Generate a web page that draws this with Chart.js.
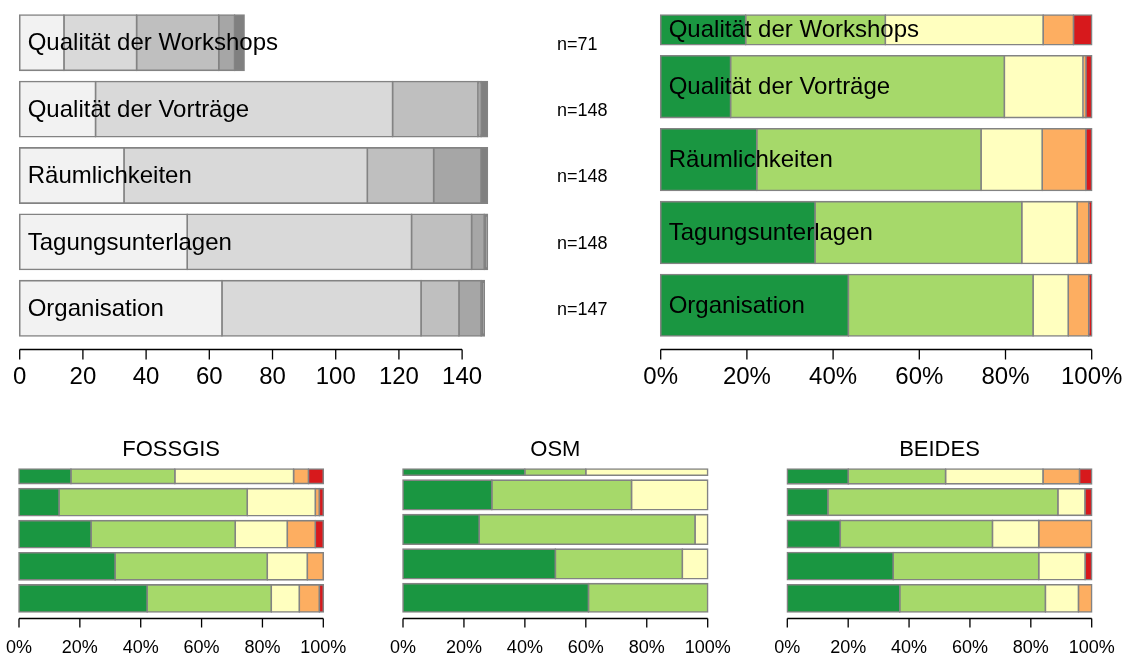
<!DOCTYPE html>
<html>
<head>
<meta charset="utf-8">
<script src="https://cdn.jsdelivr.net/npm/chart.js@4.4.0/dist/chart.umd.min.js"></script>
<style>
  body { margin: 0; background: #fff; }
  #wrap { position: relative; width: 1124px; height: 655px; }
  #wrap canvas { position: absolute; left: 0; top: 0; }
</style>
</head>
<body>
<div id="wrap">
  <canvas id="cAll" width="1124" height="655"></canvas>
  <canvas id="cPct" width="1124" height="655"></canvas>
  <canvas id="cFoss" width="1124" height="655"></canvas>
  <canvas id="cOsm" width="1124" height="655"></canvas>
  <canvas id="cBeides" width="1124" height="655"></canvas>
</div>
<script>
// rows, top to bottom as shown
const rowLabels = ['Qualität der Workshops', 'Qualität der Vorträge', 'Räumlichkeiten', 'Tagungsunterlagen', 'Organisation'];
const levels = ['1', '2', '3', '4', '5'];

// answers per rating level (1 = best ... 5 = worst)
const countsAll = [
  [14, 23, 26, 5, 3],
  [24, 94, 27, 1, 2],
  [33, 77, 21, 15, 2],
  [53, 71, 19, 4, 1],
  [64, 63, 12, 7, 1],
];
const countsFossgis = [
  [7, 14, 16, 2, 2],
  [10, 47, 17, 1, 1],
  [18, 36, 13, 7, 2],
  [24, 38, 10, 4, 0],
  [32, 31, 7, 5, 1],
];
const countsOsm = [
  [2, 1, 2, 0, 0],
  [7, 11, 6, 0, 0],
  [6, 17, 1, 0, 0],
  [12, 10, 2, 0, 0],
  [14, 9, 0, 0, 0],
];
const countsBeides = [
  [5, 8, 8, 3, 1],
  [6, 34, 4, 0, 1],
  [8, 23, 7, 8, 0],
  [16, 22, 7, 0, 1],
  [17, 22, 5, 2, 0],
];

const countTicks = [0, 20, 40, 60, 80, 100, 120, 140];
const pctTicks = [0, 20, 40, 60, 80, 100];

const grays = ['#F2F2F2', '#D9D9D9', '#BFBFBF', '#A6A6A6', '#808080'];
const rdylgn = ['#1A9641', '#A6D96A', '#FFFFBF', '#FDAE61', '#D7191C'];
const FONT = '"Liberation Sans", Arial, Helvetica, sans-serif';

function sum(a) { return a.reduce((s, v) => s + v, 0); }

// bar positions like R's barplot (space = 0.2 of mean width, 4% padding)
function barLayout(widths) {
  const space = 0.2 * sum(widths) / widths.length;
  const centers = [];
  let pos = 0;
  widths.forEach((w) => {
    pos += space;
    centers.push(pos + w / 2);
    pos += w;
  });
  const lo = space, hi = pos, ext = 0.04 * (hi - lo);
  return { centers, min: lo - ext, max: hi + ext };
}

function makePanel(id, cfg) {
  const rows = cfg.counts.slice().reverse(); // first row is drawn at the bottom
  const labels = rowLabels.slice().reverse();
  const totals = rows.map(sum);
  const widths = cfg.equal ? rows.map(() => 1) : totals;
  const lay = barLayout(widths);
  const a = cfg.area;
  const pxPerUnit = (a.b - a.t) / (lay.max - lay.min);

  const datasets = [];
  rows.forEach((r, k) => {
    r.forEach((v, j) => {
      if (!v) return;
      datasets.push({
        label: levels[j],
        data: [{ x: cfg.percent ? v / totals[k] * 100 : v, y: lay.centers[k] }],
        backgroundColor: cfg.colors[j],
        borderColor: '#838383',
        borderWidth: 1.6,
        inflateAmount: 0.8,
        borderSkipped: false,
        barThickness: widths[k] * pxPerUnit,
        clip: false,
      });
    });
  });

  const textPlugin = {
    id: 'panelText',
    afterDatasetsDraw(chart) {
      const ctx = chart.ctx;
      const xs = chart.scales.x, ys = chart.scales.y;
      const area = chart.chartArea;
      ctx.save();
      ctx.fillStyle = '#000';
      if (cfg.rowFont) {
        ctx.font = cfg.rowFont + 'px ' + FONT;
        ctx.textAlign = 'left';
        ctx.textBaseline = 'middle';
        labels.forEach((l, k) => {
          ctx.fillText(l, area.left + 8, ys.getPixelForValue(lay.centers[k]) + 1);
        });
      }
      if (cfg.nX) {
        ctx.font = '18px ' + FONT;
        ctx.textBaseline = 'middle';
        totals.forEach((n, k) => {
          ctx.fillText('n=' + n, cfg.nX, ys.getPixelForValue(lay.centers[k]) + 2);
        });
      }
      // axis
      const y0 = Math.round(area.bottom) + 0.5;
      const x0 = xs.getPixelForValue(cfg.ticks[0]);
      const x1 = xs.getPixelForValue(cfg.ticks[cfg.ticks.length - 1]);
      ctx.strokeStyle = '#000';
      ctx.lineWidth = 1.3;
      ctx.beginPath();
      ctx.moveTo(x0, y0);
      ctx.lineTo(x1, y0);
      cfg.ticks.forEach((t) => {
        const x = xs.getPixelForValue(t);
        ctx.moveTo(x, y0);
        ctx.lineTo(x, y0 + cfg.tickLen);
      });
      ctx.stroke();
      ctx.font = cfg.tickFont + 'px ' + FONT;
      ctx.textAlign = 'center';
      ctx.textBaseline = 'alphabetic';
      cfg.ticks.forEach((t) => {
        ctx.fillText(t + (cfg.percent ? '%' : ''), xs.getPixelForValue(t), cfg.tickBase);
      });
      if (cfg.title) {
        ctx.font = '22px ' + FONT;
        ctx.fillText(cfg.title, (area.left + area.right) / 2, area.top - 7);
      }
      ctx.restore();
    },
  };

  return new Chart(document.getElementById(id), {
    type: 'bar',
    data: { datasets },
    options: {
      indexAxis: 'y',
      responsive: false,
      devicePixelRatio: 1,
      animation: false,
      events: [],
      layout: { padding: { left: a.l, right: 1124 - a.r, top: a.t, bottom: 655 - a.b } },
      scales: {
        x: { type: 'linear', stacked: true, min: 0, max: cfg.max, offset: false, display: false },
        y: { type: 'linear', stacked: true, min: lay.min, max: lay.max, offset: false, display: false },
      },
      plugins: { legend: { display: false }, tooltip: { enabled: false }, title: { display: false } },
    },
    plugins: [textPlugin],
  });
}

makePanel('cAll', {
  counts: countsAll, equal: true, percent: false, colors: grays,
  area: { l: 19.7, r: 487.4, t: 2.2, b: 348.8 }, max: Math.max(...countsAll.map(sum)),
  ticks: countTicks, tickLen: 10, tickFont: 24, tickBase: 384,
  rowFont: 24, nX: 557,
});
makePanel('cPct', {
  counts: countsAll, percent: true, colors: rdylgn,
  area: { l: 660.7, r: 1091.7, t: 2.2, b: 348.8 }, max: 100,
  ticks: pctTicks, tickLen: 10, tickFont: 24, tickBase: 384,
  rowFont: 24,
});
makePanel('cFoss', {
  counts: countsFossgis, percent: true, colors: rdylgn,
  area: { l: 19, r: 323.3, t: 463.3, b: 617.7 }, max: 100,
  ticks: pctTicks, tickLen: 9, tickFont: 18, tickBase: 653, title: 'FOSSGIS',
});
makePanel('cOsm', {
  counts: countsOsm, percent: true, colors: rdylgn,
  area: { l: 403, r: 707.7, t: 463.3, b: 617.7 }, max: 100,
  ticks: pctTicks, tickLen: 9, tickFont: 18, tickBase: 653, title: 'OSM',
});
makePanel('cBeides', {
  counts: countsBeides, percent: true, colors: rdylgn,
  area: { l: 787.3, r: 1091.7, t: 463.3, b: 617.7 }, max: 100,
  ticks: pctTicks, tickLen: 9, tickFont: 18, tickBase: 653, title: 'BEIDES',
});
</script>
</body>
</html>
